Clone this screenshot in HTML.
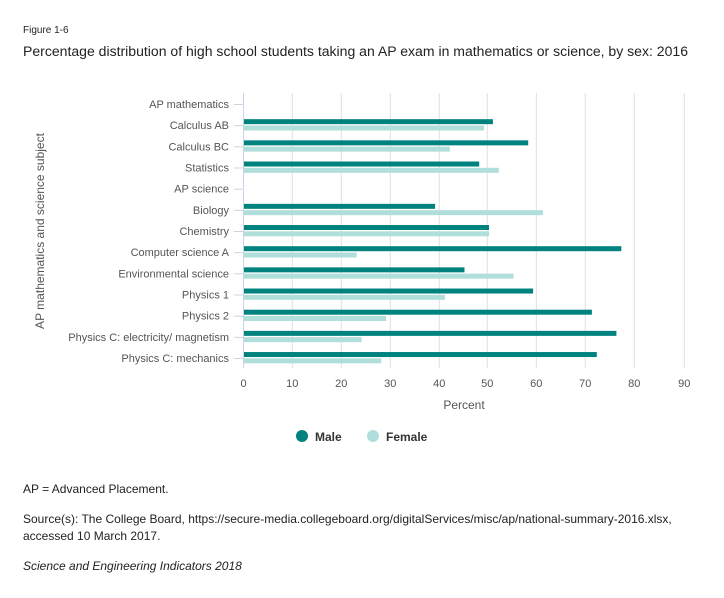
<!DOCTYPE html>
<html><head><meta charset="utf-8"><style>
body{margin:0;background:#fff;}
svg{display:block;font-family:"Liberation Sans",Arial,sans-serif;}
</style></head><body>
<svg width="724" height="598" viewBox="0 0 724 598" xmlns="http://www.w3.org/2000/svg">
<text x="23" y="33" font-size="10" fill="#222">Figure 1-6</text>
<text x="23" y="56" font-size="13.5" fill="#222" textLength="665" lengthAdjust="spacingAndGlyphs">Percentage distribution of high school students taking an AP exam in mathematics or science, by sex: 2016</text>
<g stroke="#e0e0e0" stroke-width="1">
<line x1="292.3" y1="93" x2="292.3" y2="368"/><line x1="341.3" y1="93" x2="341.3" y2="368"/>
<line x1="390.3" y1="93" x2="390.3" y2="368"/><line x1="439.3" y1="93" x2="439.3" y2="368"/>
<line x1="487.3" y1="93" x2="487.3" y2="368"/><line x1="536.3" y1="93" x2="536.3" y2="368"/>
<line x1="585.3" y1="93" x2="585.3" y2="368"/><line x1="634.3" y1="93" x2="634.3" y2="368"/>
<line x1="684.3" y1="93" x2="684.3" y2="368"/>
</g>
<line x1="243.5" y1="93" x2="243.5" y2="368" stroke="#ccd3e3"/>
<g font-size="11" fill="#555" text-anchor="end" id="labels"></g>
<g id="bars"></g>
<g font-size="11" fill="#555" text-anchor="middle">
<text x="243.5" y="387">0</text><text x="292.3" y="387">10</text><text x="341.3" y="387">20</text>
<text x="390.3" y="387">30</text><text x="439.3" y="387">40</text><text x="487.3" y="387">50</text>
<text x="536.3" y="387">60</text><text x="585.3" y="387">70</text><text x="634.3" y="387">80</text>
<text x="684.3" y="387">90</text>
<text x="464" y="409" font-size="12">Percent</text>
</g>
<text transform="translate(44,231) rotate(-90)" font-size="12" fill="#555" text-anchor="middle">AP mathematics and science subject</text>
<circle cx="302" cy="436" r="6" fill="#00827f"/>
<text x="315" y="441" font-size="12" font-weight="bold" fill="#333">Male</text>
<circle cx="373" cy="436" r="6" fill="#b0dedb"/>
<text x="386" y="441" font-size="12" font-weight="bold" fill="#333">Female</text>
<g font-size="12" fill="#222">
<text x="23" y="493">AP = Advanced Placement.</text>
<text x="23" y="523">Source(s): The College Board, https://secure-media.collegeboard.org/digitalServices/misc/ap/national-summary-2016.xlsx,</text>
<text x="23" y="540">accessed 10 March 2017.</text>
<text x="23" y="570" font-style="italic">Science and Engineering Indicators 2018</text>
</g>
<script>
var d=[["AP mathematics",null,null],["Calculus AB",50.8,49],["Calculus BC",58,42],["Statistics",48,52],["AP science",null,null],["Biology",39,61],["Chemistry",50,50],["Computer science A",77,23],["Environmental science",45,55],["Physics 1",59,41],["Physics 2",71,29],["Physics C: electricity/ magnetism",76,24],["Physics C: mechanics",72,28]];
var L=document.getElementById('labels'),B=document.getElementById('bars'),ns="http://www.w3.org/2000/svg";
d.forEach(function(r,i){var c=104+i*21.17;
var t=document.createElementNS(ns,'text');t.setAttribute('x',229);t.setAttribute('y',c+4);t.textContent=r[0];L.appendChild(t);
var l=document.createElementNS(ns,'line');l.setAttribute('x1',234);l.setAttribute('x2',243);l.setAttribute('y1',c+0.5);l.setAttribute('y2',c+0.5);l.setAttribute('stroke','#ccd3e3');B.appendChild(l);
if(r[1]!=null){[[r[1],c-6,'#00827f'],[r[2],c+0.3,'#b0dedb']].forEach(function(b){var e=document.createElementNS(ns,'rect');e.setAttribute('x',244);e.setAttribute('y',b[1]);e.setAttribute('width',b[0]*4.9);e.setAttribute('height',5);e.setAttribute('fill',b[2]);B.appendChild(e);});}
});
</script>
</svg>
</body></html>
